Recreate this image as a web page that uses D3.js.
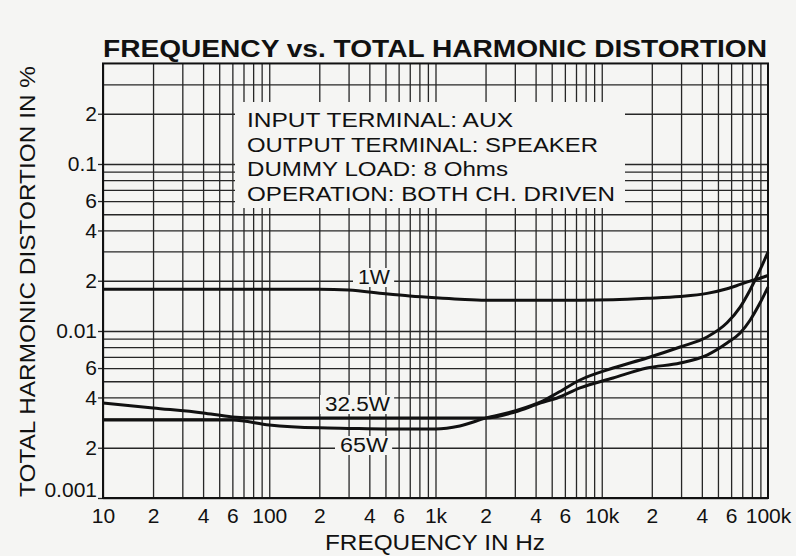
<!DOCTYPE html>
<meta charset="utf-8">
<script src="https://d3js.org/d3.v7.min.js"></script>
<style>
  body { margin: 0; background: #f5f5f3; }
  svg { display: block; font-family: "Liberation Sans", Arial, sans-serif; }
  .grid line { stroke: #262626; stroke-width: 1.3; }
  .grid path, .labels path { display: none; }
  .labels text { font-size: 21px; fill: #111; }
  .labels line { stroke: #262626; stroke-width: 1.3; }
</style>
<div id="chart"></div>
<script>
// frequencies (Hz)
var freq   = [10, 20, 40, 60, 100, 200, 300, 500, 700, 1000, 1400, 2000, 3000, 4300, 5400, 7400, 11700, 18700, 29600, 43000, 56700, 68000, 78000, 89500, 100000];
// THD in %
var thd1W  = [0.0178, 0.0178, 0.0178, 0.0178, 0.0178, 0.0178, 0.0176, 0.0167, 0.0162, 0.0158, 0.0155, 0.0153, 0.0153, 0.0153, 0.0153, 0.0153, 0.0154, 0.0157, 0.0161, 0.0168, 0.0179, 0.0190, 0.0199, 0.0207, 0.0215];
var thd32W = [0.00371, 0.00346, 0.00323, 0.00306, 0.00301, 0.00301, 0.00301, 0.00301, 0.00301, 0.00301, 0.00301, 0.00301, 0.00327, 0.00371, 0.00397, 0.00456, 0.00523, 0.00600, 0.00643, 0.00718, 0.00848, 0.00973, 0.0116, 0.0147, 0.0183];
var thd65W = [0.00293, 0.00293, 0.00293, 0.00293, 0.00274, 0.00263, 0.00261, 0.00259, 0.00259, 0.00259, 0.00270, 0.00301, 0.00332, 0.00376, 0.00425, 0.00509, 0.00600, 0.00689, 0.00802, 0.00920, 0.0112, 0.0139, 0.0176, 0.0232, 0.0297];

var xTickValues = [10, 20, 40, 60, 100, 200, 400, 600, 1000, 2000, 4000, 6000, 10000, 20000, 40000, 60000, 100000];
var xTickLabels = ["10", "2", "4", "6", "100", "2", "4", "6", "1k", "2", "4", "6", "10k", "2", "4", "6", "100k"];
var yTickValues = [0.001, 0.002, 0.004, 0.006, 0.01, 0.02, 0.04, 0.06, 0.1, 0.2];
var yTickLabels = ["0.001", "2", "4", "6", "0.01", "2", "4", "6", "0.1", "2"];

var seriesNames = ["1W", "32.5W", "65W"];
var noteLines = ["INPUT TERMINAL: AUX", "OUTPUT TERMINAL: SPEAKER", "DUMMY LOAD: 8 Ohms", "OPERATION: BOTH CH. DRIVEN"];

var W = 796, H = 556;
var left = 103, right = 768, bottom = 498;
var bg = "#f5f5f3";

var svg = d3.select("#chart").append("svg")
  .attr("width", W).attr("height", H);

var x = d3.scaleLog().domain([10, 100000]).range([left, right]);
var y = d3.scaleLog().domain([0.001, 0.4]).range([bottom, bottom - 167 * Math.log10(400)]);
var plotTop = y(0.4);
var ph = bottom - plotTop;

// grid values: 1..9 of each decade
var xGrid = [];
[10, 100, 1000, 10000].forEach(function(d) { for (var k = 1; k < 10; k++) xGrid.push(d * k); });
var yGrid = [];
[0.001, 0.01].forEach(function(d) { for (var k = 1; k < 10; k++) yGrid.push(d * k); });
yGrid.push(0.1, 0.2, 0.3);

svg.append("g").attr("class", "grid")
  .attr("transform", "translate(0," + bottom + ")")
  .call(d3.axisBottom(x).tickValues(xGrid).tickSize(-ph).tickFormat(""));

svg.append("g").attr("class", "grid")
  .attr("transform", "translate(" + left + ",0)")
  .call(d3.axisLeft(y).tickValues(yGrid).tickSize(-(right - left)).tickFormat(""));

// tick labels
svg.append("g").attr("class", "labels")
  .attr("transform", "translate(0," + bottom + ")")
  .call(d3.axisBottom(x).tickValues(xTickValues).tickSize(0).tickPadding(10)
    .tickFormat(function(d, i) { return xTickLabels[i]; }));

var yl = svg.append("g").attr("class", "labels")
  .attr("transform", "translate(" + left + ",0)")
  .call(d3.axisLeft(y).tickValues(yTickValues).tickSize(5).tickPadding(1)
    .tickFormat(function(d, i) { return yTickLabels[i]; }));
yl.selectAll(".tick text").filter(function(d) { return d === 0.001; }).attr("y", -8);

// annotation box covers grid
svg.append("rect")
  .attr("x", 235).attr("y", 102).attr("width", 390).attr("height", 106)
  .attr("fill", bg);

var note = svg.append("g").attr("font-size", 20).attr("fill", "#111");
var noteWidths = [266, 351, 261, 368];
noteLines.forEach(function(t, i) {
  note.append("text")
    .attr("x", 247).attr("y", 127 + i * 24.7)
    .attr("textLength", noteWidths[i]).attr("lengthAdjust", "spacingAndGlyphs")
    .text(t);
});

// curve labels with masks
var curveLabels = [
  { name: seriesNames[0], x: 358, y: 284, w: 32 },
  { name: seriesNames[1], x: 325, y: 411, w: 65 },
  { name: seriesNames[2], x: 340, y: 452, w: 48 }
];
curveLabels.forEach(function(c) {
  var g = svg.append("g");
  var t = g.append("text")
    .attr("x", c.x).attr("y", c.y)
    .attr("font-size", 20).attr("fill", "#111")
    .attr("textLength", c.w).attr("lengthAdjust", "spacingAndGlyphs")
    .text(c.name);
  var b = t.node().getBBox();
  g.insert("rect", "text")
    .attr("x", b.x - 5).attr("y", b.y + 2).attr("width", b.width + 9).attr("height", b.height - 3)
    .attr("fill", bg);
});

// curves
var line = d3.line()
  .x(function(d) { return x(d[0]); })
  .y(function(d) { return y(d[1]); })
  .curve(d3.curveMonotoneX);

[thd1W, thd32W, thd65W].forEach(function(vals) {
  svg.append("path")
    .datum(freq.map(function(f, i) { return [f, vals[i]]; }))
    .attr("d", line)
    .attr("fill", "none")
    .attr("stroke", "#111")
    .attr("stroke-width", 3);
});

// frame
svg.append("rect")
  .attr("x", left).attr("y", plotTop).attr("width", right - left).attr("height", ph)
  .attr("fill", "none").attr("stroke", "#111").attr("stroke-width", 2);

// titles
svg.append("text")
  .attr("x", 103).attr("y", 57)
  .attr("font-size", 24).attr("font-weight", "bold").attr("fill", "#111")
  .attr("textLength", 664).attr("lengthAdjust", "spacingAndGlyphs")
  .text("FREQUENCY vs. TOTAL HARMONIC DISTORTION");

svg.append("text")
  .attr("x", 325).attr("y", 550)
  .attr("font-size", 22).attr("fill", "#111")
  .attr("textLength", 220).attr("lengthAdjust", "spacingAndGlyphs")
  .text("FREQUENCY IN Hz");

svg.append("text")
  .attr("transform", "translate(35,497) rotate(-90)")
  .attr("font-size", 22).attr("fill", "#111")
  .attr("textLength", 431).attr("lengthAdjust", "spacingAndGlyphs")
  .text("TOTAL HARMONIC DISTORTION IN %");
</script>
